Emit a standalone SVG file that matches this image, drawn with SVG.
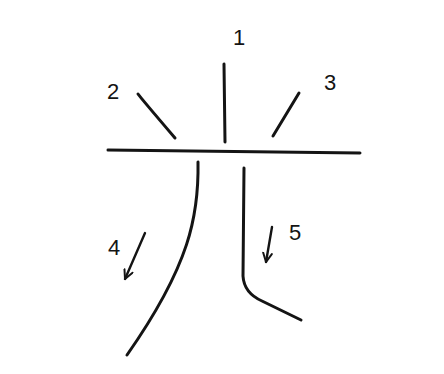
<svg xmlns="http://www.w3.org/2000/svg" width="444" height="374" viewBox="0 0 444 374">
<style>
.s{fill:none;stroke:#141414;stroke-width:3;stroke-linecap:round;stroke-linejoin:round}
.a{fill:none;stroke:#141414;stroke-width:2.4;stroke-linecap:round;stroke-linejoin:round}
.t{font-family:"Liberation Sans",Arial,sans-serif;font-size:22px;fill:#141414;text-anchor:middle}
</style>
<defs>
<marker id="v" viewBox="0 0 10 10" refX="9" refY="5" markerWidth="11" markerHeight="11" markerUnits="userSpaceOnUse" orient="auto">
<path d="M1,1 L9,5 L1,9" fill="none" stroke="#141414" stroke-width="1.8" stroke-linecap="round"/>
</marker>
</defs>
<rect width="444" height="374" fill="#fff"/>
<g id="surface">
<path class="s" d="M108,150 Q230,152 360,153"/>
</g>
<g id="rays">
<path class="s" d="M224,64 L225,142"/>
<path class="s" d="M138,94 Q140,97 175,138"/>
<path class="s" d="M299,93 L273,136"/>
</g>
<g id="walls">
<path class="s" d="M198,162 C199,215 190,265 127,355"/>
<path class="s" d="M244,168 L243,276 Q244,293 262,301 L301,320"/>
</g>
<g id="arrows">
<path class="a" d="M145,233 L125,279" marker-end="url(#v)"/>
<path class="a" d="M272,227 L266,262" marker-end="url(#v)"/>
</g>
<g id="labels">
<text class="t" x="239" y="45" font-size="18">1</text>
<text class="t" x="113" y="99" font-size="24">2</text>
<text class="t" x="330" y="90" font-size="24">3</text>
<text class="t" x="114" y="255" font-size="18">4</text>
<text class="t" x="295" y="240" font-size="24">5</text>
</g>
</svg>
